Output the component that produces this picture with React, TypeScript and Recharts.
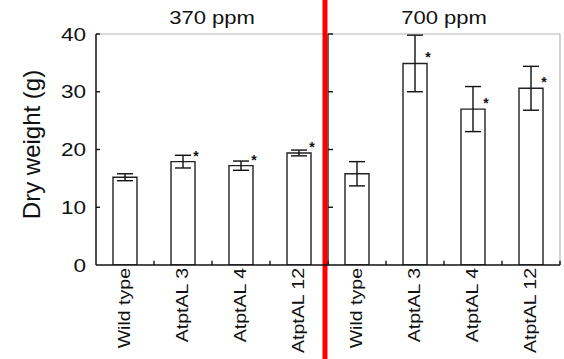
import React from 'react';
import { BarChart, Bar, XAxis, YAxis, ErrorBar, ReferenceLine, LabelList } from 'recharts';

const categories = ['Wild type', 'AtptAL 3', 'AtptAL 4', 'AtptAL 12', 'Wild type', 'AtptAL 3', 'AtptAL 4', 'AtptAL 12'];
const means = [15.2, 17.9, 17.2, 19.4, 15.8, 34.9, 27.0, 30.6];
const errors = [0.6, 1.1, 0.8, 0.5, 2.1, 4.9, 3.9, 3.8];
const stars = ['', '*', '*', '*', '', '*', '*', '*'];
const panelTitles = ['370 ppm', '700 ppm'];
const yTicks = [0, 10, 20, 30, 40];

const data = categories.map((name, i) => ({ key: 'c' + i, name, mean: means[i], err: errors[i], star: stars[i] }));
const keys = data.map((d) => d.key);
// panel layout derived from category keys
const panelFirst = [keys[0], keys[4]];
const panelCentreKey = [keys[1], keys[5]]; // panel centre = end of 2nd band
const splitKey = keys[3]; // boundary between panels = end of 4th band
const lastKey = keys[7];

const FONT = '"Liberation Sans", Arial, Helvetica, sans-serif';
const INK = '#111';
const BORDER = '#b5b5b5';

function YTick(p: any) {
  const { x, y, payload } = p;
  return (
    <text transform={`translate(${x},${y}) scale(1.22,1)`} textAnchor="end" dy="0.36em" fontSize={18.5} fill={INK} fontFamily={FONT}>
      {payload.value}
    </text>
  );
}

function XTick(p: any) {
  const { x, y, index } = p;
  return (
    <text transform={`translate(${x + 5},${y}) rotate(-90) scale(1.15,1)`} textAnchor="end" fontSize={17} fill={INK} fontFamily={FONT}>
      {categories[index]}
    </text>
  );
}

function YLabel(p: any) {
  const vb = p.viewBox || {};
  const cx = (vb.x ?? 0) + 40;
  const cy = (vb.y ?? 34) + (vb.height ?? 231) / 2 - 5;
  return (
    <text transform={`translate(${cx},${cy}) rotate(-90) scale(1.2,1.15)`} textAnchor="middle" fontSize={20} fill={INK} fontFamily={FONT}>
      Dry weight (g)
    </text>
  );
}

function makeTitle(text: string) {
  return (p: any) => {
    const vb = p.viewBox || {};
    const cx = vb.x ?? 0;
    const cy = (vb.y ?? 34) - 10.5;
    return (
      <text transform={`translate(${cx},${cy}) scale(1.16,1)`} textAnchor="middle" fontSize={19} fill={INK} fontFamily={FONT}>
        {text}
      </text>
    );
  };
}

function StarLabel(p: any) {
  const vb = p.viewBox || p;
  const x = vb.x ?? p.x;
  const y = vb.y ?? p.y;
  const w = vb.width ?? p.width;
  if (!p.value) return null;
  return (
    <text x={x + w + 1} y={y - 1} textAnchor="middle" fontSize={14} fontWeight="bold" fill={INK} fontFamily={FONT}>
      {p.value}
    </text>
  );
}

// short inward tick drawn from the reference point
function inwardTick(len: number) {
  return (p: any) => (
    <line x1={p.x1} y1={p.y1} x2={p.x1 + len} y2={p.y1} stroke={INK} strokeWidth={1.4} />
  );
}

function redShape(p: any) {
  return <line x1={p.x1 - 3} y1={p.y1} x2={p.x2 - 3} y2={p.y2} stroke="#ff0000" strokeWidth={5} />;
}

export default function App() {
  return (
    <div style={{ position: 'absolute', left: 0, top: 0, width: 564, height: 359, background: '#fff' }}>
      <BarChart width={564} height={359} data={data} margin={{ top: 34, right: 4, left: 0, bottom: 0 }}>
        <XAxis
          dataKey="key"
          interval={0}
          height={94}
          tickSize={0}
          tickMargin={3}
          tickLine={false}
          axisLine={{ stroke: INK, strokeWidth: 1.5 }}
          tick={(p: any) => <XTick {...p} />}
        />
        <YAxis
          domain={[0, 40]}
          ticks={yTicks}
          interval={0}
          width={96}
          tickSize={0}
          tickMargin={10}
          tickLine={false}
          allowDataOverflow
          axisLine={{ stroke: INK, strokeWidth: 1.5 }}
          tick={(p: any) => <YTick {...p} />}
          label={{ content: (p: any) => <YLabel {...p} /> }}
        />
        <ReferenceLine y={40} stroke={BORDER} strokeWidth={1.2} ifOverflow="visible" />
        <ReferenceLine x={lastKey} position="end" stroke={BORDER} strokeWidth={1.2} ifOverflow="visible" />
        <ReferenceLine x={splitKey} position="end" stroke={INK} strokeWidth={1.3} ifOverflow="visible" />
        {panelTitles.map((t, k) => (
          <ReferenceLine
            key={'title' + k}
            x={panelCentreKey[k]}
            position="end"
            stroke="none"
            strokeOpacity={0}
            ifOverflow="visible"
            label={{ content: makeTitle(t) }}
          />
        ))}
        {keys.map((k) => (
          <ReferenceLine
            key={'bt' + k}
            segment={[{ x: k, y: 0 }, { x: k, y: 0.75 }]}
            position="end"
            stroke={INK}
            strokeWidth={1.4}
            ifOverflow="visible"
          />
        ))}
        {panelFirst.map((pk, k) =>
          yTicks.filter((v) => v > 0).map((v) => (
            <ReferenceLine
              key={'yt' + k + '-' + v}
              segment={[{ x: pk, y: v }, { x: pk, y: v }]}
              position="start"
              ifOverflow="visible"
              shape={inwardTick(k === 0 ? 4 : 5)}
            />
          ))
        )}
        <Bar dataKey="mean" barSize={24} fill="#fff" stroke="#222" strokeWidth={1.4} isAnimationActive={false}>
          <ErrorBar dataKey="err" width={8} stroke={INK} strokeWidth={1.4} direction="y" isAnimationActive={false} />
          <LabelList dataKey="star" content={(p: any) => <StarLabel {...p} />} />
        </Bar>
        <ReferenceLine
          segment={[{ x: splitKey, y: -25 }, { x: splitKey, y: 47 }]}
          position="end"
          ifOverflow="visible"
          shape={redShape}
        />
      </BarChart>
    </div>
  );
}
